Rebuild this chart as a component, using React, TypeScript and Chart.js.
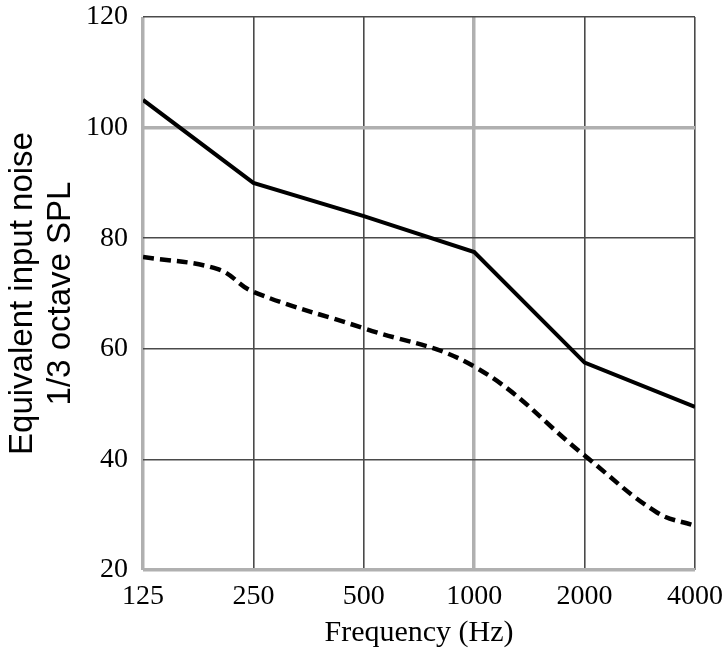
import React, { useEffect, useRef } from "react";
import { Chart, registerables } from "chart.js";

Chart.register(...registerables);

const frequencies = [125, 250, 500, 1000, 2000, 4000];
const upperSeries = [105, 90, 84, 77.5, 57.5, 49.5];
const lowerFrequencies = [125, 200, 250, 500, 1000, 2000, 3150, 4000];
const lowerSeries = [76.6, 74.4, 70.3, 63.7, 56.8, 40.7, 30.4, 28.0];
const yTicks = [20, 40, 60, 80, 100, 120];
const lightY = [20, 100];
const lightX = [0, 3];

export default function App() {
  const ref = useRef<HTMLCanvasElement | null>(null);
  useEffect(() => {
    document.body.style.margin = "0";
    const ctx = ref.current!;
    const chart = new Chart(ctx, {
      type: "line",
      data: {
        datasets: [
          {
            data: frequencies.map((f, i) => ({ x: f, y: upperSeries[i] })),
            borderColor: "#000",
            borderWidth: 4,
            pointRadius: 0,
            tension: 0,
            fill: false,
          },
          {
            data: lowerFrequencies.map((f, i) => ({ x: f, y: lowerSeries[i] })),
            borderColor: "#000",
            borderWidth: 4.5,
            borderDash: [11, 6],
            pointRadius: 0,
            tension: 0.4,
            fill: false,
          },
        ],
      },
      options: {
        animation: false,
        responsive: false,
        maintainAspectRatio: false,
        layout: { padding: { top: 17, right: 31, left: 0, bottom: 0 } },
        plugins: { legend: { display: false }, tooltip: { enabled: false } },
        scales: {
          x: {
            type: "logarithmic",
            min: 125,
            max: 4000,
            border: { display: false },
            afterBuildTicks: (s: any) => {
              s.ticks = frequencies.map((v) => ({ value: v }));
            },
            grid: {
              drawTicks: false,
              color: (c: any) => (lightX.includes(c.index) ? "#b0b0b0" : "#4a4a4a"),
              lineWidth: (c: any) => (lightX.includes(c.index) ? 3.5 : 1.6),
            },
            ticks: {
              padding: 10,
              color: "#000",
              font: { family: "'Liberation Serif', 'Times New Roman', serif", size: 28 },
              maxRotation: 0,
              autoSkip: false,
              callback: (v: any) => String(v),
            },
            title: {
              display: true,
              text: "Frequency (Hz)",
              color: "#000",
              font: { family: "'Liberation Serif', 'Times New Roman', serif", size: 30 },
              padding: { top: 0, bottom: 0 },
            },
            afterFit: (s: any) => {
              s.height = 81;
              s.paddingLeft = 0;
              s.paddingRight = 0;
            },
          },
          y: {
            min: 20,
            max: 120,
            border: { display: false },
            afterBuildTicks: (s: any) => {
              s.ticks = yTicks.map((v) => ({ value: v }));
            },
            grid: {
              drawTicks: false,
              color: (c: any) => (c.tick && lightY.includes(c.tick.value) ? "#b0b0b0" : "#4a4a4a"),
              lineWidth: (c: any) => (c.tick && lightY.includes(c.tick.value) ? 3.5 : 1.6),
            },
            ticks: {
              padding: 15,
              color: "#000",
              font: { family: "'Liberation Serif', 'Times New Roman', serif", size: 28 },
            },
            title: {
              display: true,
              text: ["Equivalent input noise", "1/3 octave SPL"],
              color: "#000",
              font: { family: "'Liberation Sans', Arial, sans-serif", size: 33, lineHeight: 1.15 },
              padding: { top: 4, bottom: 0 },
            },
            afterFit: (s: any) => {
              s.width = 143;
              s.paddingTop = 0;
              s.paddingBottom = 0;
            },
          },
        },
      },
    });
    return () => chart.destroy();
  }, []);
  return (
    <div style={{ position: "absolute", left: 0, top: 0, width: 726, height: 651, background: "#fff" }}>
      <canvas ref={ref} width={726} height={651} style={{ width: 726, height: 651 }} />
    </div>
  );
}
